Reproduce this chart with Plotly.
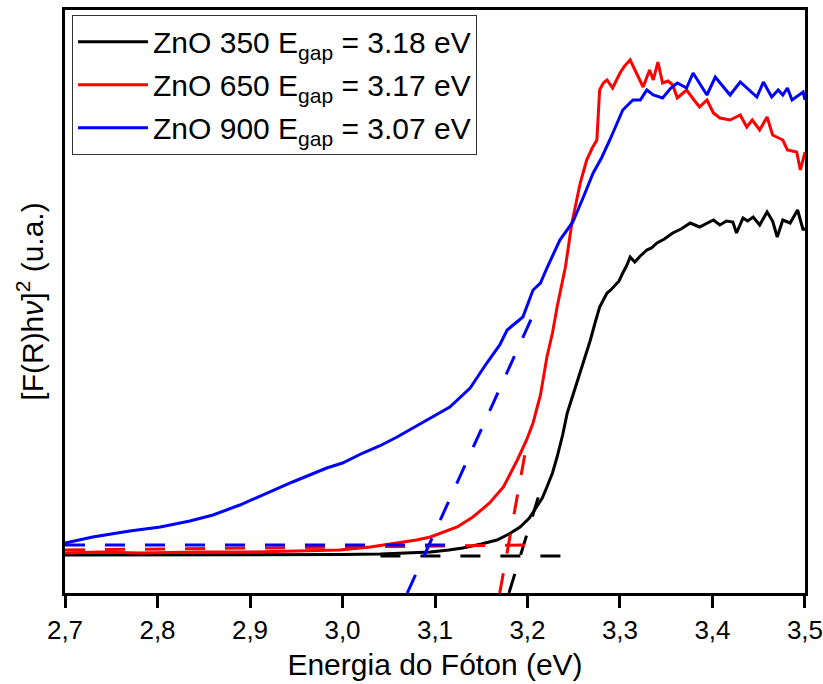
import plotly.graph_objects as go

# Photon energy (eV) and Kubelka-Munk [F(R)hv]^2 (arbitrary units) for each sample
E_350 = [2.700, 2.750, 2.800, 2.850, 2.900, 2.950, 3.000, 3.041, 3.070, 3.095, 3.115, 3.130,
         3.150, 3.167, 3.180, 3.192, 3.202, 3.210, 3.216, 3.221, 3.227, 3.232, 3.238, 3.243,
         3.250, 3.257, 3.262, 3.268, 3.273, 3.278, 3.282, 3.286, 3.290, 3.295, 3.299, 3.303,
         3.307, 3.311, 3.316, 3.322, 3.329, 3.334, 3.340, 3.348, 3.357, 3.366, 3.376, 3.386,
         3.394, 3.401, 3.408, 3.415, 3.422, 3.426, 3.433, 3.438, 3.444, 3.451, 3.459, 3.465,
         3.470, 3.476, 3.484, 3.492, 3.498, 3.500]
KM_350 = [0.38, 0.38, 0.38, 0.38, 0.38, 0.38, 0.385, 0.39, 0.40, 0.41, 0.43, 0.45,
          0.49, 0.53, 0.59, 0.66, 0.75, 0.86, 0.95, 1.06, 1.20, 1.36, 1.58, 1.80,
          2.00, 2.20, 2.36, 2.53, 2.70, 2.86, 2.93, 3.00, 3.03, 3.08, 3.12, 3.20,
          3.27, 3.36, 3.31, 3.37, 3.43, 3.45, 3.50, 3.54, 3.60, 3.64, 3.70, 3.66,
          3.70, 3.73, 3.68, 3.72, 3.71, 3.60, 3.75, 3.72, 3.76, 3.68, 3.81, 3.72,
          3.56, 3.73, 3.70, 3.83, 3.63, 3.65]

E_650 = [2.700, 2.738, 2.780, 2.846, 2.900, 2.954, 2.997, 3.030, 3.059, 3.080, 3.095, 3.110,
         3.124, 3.141, 3.159, 3.174, 3.182, 3.189, 3.199, 3.206, 3.214, 3.221, 3.227, 3.232,
         3.241, 3.248, 3.257, 3.264, 3.270, 3.275, 3.278, 3.282, 3.286, 3.292, 3.300, 3.305,
         3.311, 3.318, 3.325, 3.332, 3.336, 3.341, 3.346, 3.352, 3.357, 3.362, 3.372, 3.380,
         3.386, 3.394, 3.401, 3.408, 3.419, 3.430, 3.437, 3.443, 3.451, 3.459, 3.465, 3.476,
         3.481, 3.491, 3.495, 3.500]
KM_650 = [0.40, 0.41, 0.40, 0.41, 0.41, 0.42, 0.43, 0.46, 0.50, 0.53, 0.56, 0.61,
          0.66, 0.76, 0.90, 1.06, 1.20, 1.33, 1.53, 1.70, 1.98, 2.36, 2.60, 2.86,
          3.26, 3.70, 4.10, 4.33, 4.45, 4.53, 5.03, 5.10, 5.13, 5.05, 5.20, 5.27,
          5.33, 5.20, 5.06, 5.23, 5.13, 5.31, 5.10, 5.12, 5.08, 4.95, 5.03, 4.93,
          4.86, 4.93, 4.80, 4.75, 4.73, 4.78, 4.66, 4.73, 4.63, 4.76, 4.58, 4.53,
          4.43, 4.41, 4.23, 4.41]

E_900 = [2.700, 2.730, 2.770, 2.803, 2.835, 2.860, 2.889, 2.918, 2.946, 2.983, 3.000, 3.022,
         3.040, 3.059, 3.078, 3.095, 3.116, 3.138, 3.156, 3.170, 3.178, 3.195, 3.206, 3.214,
         3.221, 3.235, 3.249, 3.260, 3.271, 3.280, 3.289, 3.303, 3.314, 3.322, 3.329, 3.336,
         3.346, 3.355, 3.362, 3.372, 3.379, 3.394, 3.403, 3.419, 3.430, 3.448, 3.455, 3.464,
         3.471, 3.476, 3.481, 3.486, 3.498, 3.500]
KM_900 = [0.50, 0.56, 0.62, 0.66, 0.72, 0.78, 0.88, 1.00, 1.11, 1.25, 1.30, 1.40,
          1.47, 1.56, 1.66, 1.75, 1.86, 2.05, 2.30, 2.48, 2.63, 2.76, 3.03, 3.10,
          3.25, 3.53, 3.71, 3.95, 4.20, 4.35, 4.53, 4.83, 4.93, 4.93, 5.03, 4.98,
          4.95, 5.05, 5.10, 5.05, 5.20, 4.98, 5.16, 4.98, 5.11, 4.96, 5.11, 4.96,
          5.03, 4.98, 5.05, 4.93, 5.01, 4.93]

samples = ["ZnO 350", "ZnO 650", "ZnO 900"]
colors = ["#000000", "#ff0000", "#0000ff"]
egap = [3.18, 3.17, 3.07]

# Tauc extrapolation: baseline segments (E start, E end, y start, y end)
base_E = [[3.041, 3.243], [2.700, 3.210], [2.700, 3.124]]
base_y = [[0.37, 0.37], [0.43, 0.48], [0.48, 0.48]]
# Upper end of each linear-region tangent (starts at Egap on the energy axis)
tan_top_E = [3.215, 3.199, 3.206]
tan_top_y = [1.06, 1.48, 2.78]

x_ticks = [2.7, 2.8, 2.9, 3.0, 3.1, 3.2, 3.3, 3.4, 3.5]
x_ticktext = ["2,7", "2,8", "2,9", "3,0", "3,1", "3,2", "3,3", "3,4", "3,5"]

FONT = "Liberation Sans"

fig = go.Figure()
series = [(E_350, KM_350), (E_650, KM_650), (E_900, KM_900)]
for i, (E, km) in enumerate(series):
    fig.add_trace(go.Scatter(
        x=E, y=km, mode="lines",
        line=dict(color=colors[i], width=3),
        name=f"{samples[i]} E<sub>gap</sub> = {egap[i]:.2f} eV",
        legendgroup=samples[i],
    ))

for i in range(3):
    fig.add_trace(go.Scatter(
        x=base_E[i], y=base_y[i], mode="lines",
        line=dict(color=colors[i], width=3, dash="20px,20px"),
        showlegend=False, hoverinfo="skip",
    ))
    fig.add_trace(go.Scatter(
        x=[egap[i], tan_top_E[i]], y=[0.0, tan_top_y[i]], mode="lines",
        line=dict(color=colors[i], width=3, dash="20px,20px"),
        showlegend=False, hoverinfo="skip",
    ))

fig.update_layout(
    width=823, height=684,
    margin=dict(l=65, r=18, t=10, b=91),
    paper_bgcolor="white", plot_bgcolor="white",
    font=dict(family=FONT, color="black"),
    showlegend=True,
    legend=dict(
        x=0.0095, y=0.992, xanchor="left", yanchor="top",
        bgcolor="white", bordercolor="#333333", borderwidth=1,
        font=dict(family=FONT, size=30, color="black"),
        itemwidth=70, tracegroupgap=1,
    ),
    xaxis=dict(
        range=[2.7, 3.50001], tickvals=x_ticks, ticktext=x_ticktext,
        ticklabeloverflow="allow", automargin=False,
        showgrid=False, zeroline=False,
        showline=True, linecolor="black", linewidth=3, mirror=True,
        ticks="outside", ticklen=12, tickwidth=3, tickcolor="black",
        tickfont=dict(family=FONT, size=26),
        title=dict(text="Energia do Fóton (eV)", font=dict(family=FONT, size=30), standoff=10),
    ),
    yaxis=dict(
        range=[0, 5.83], showticklabels=False, ticks="",
        showgrid=False, zeroline=False, automargin=False,
        showline=True, linecolor="black", linewidth=3, mirror=True,
        title=dict(text="[F(R)h<i>ν</i>]<sup>2</sup> (u.a.)", font=dict(family=FONT, size=30), standoff=10),
    ),
)

fig.write_html("out.html")
